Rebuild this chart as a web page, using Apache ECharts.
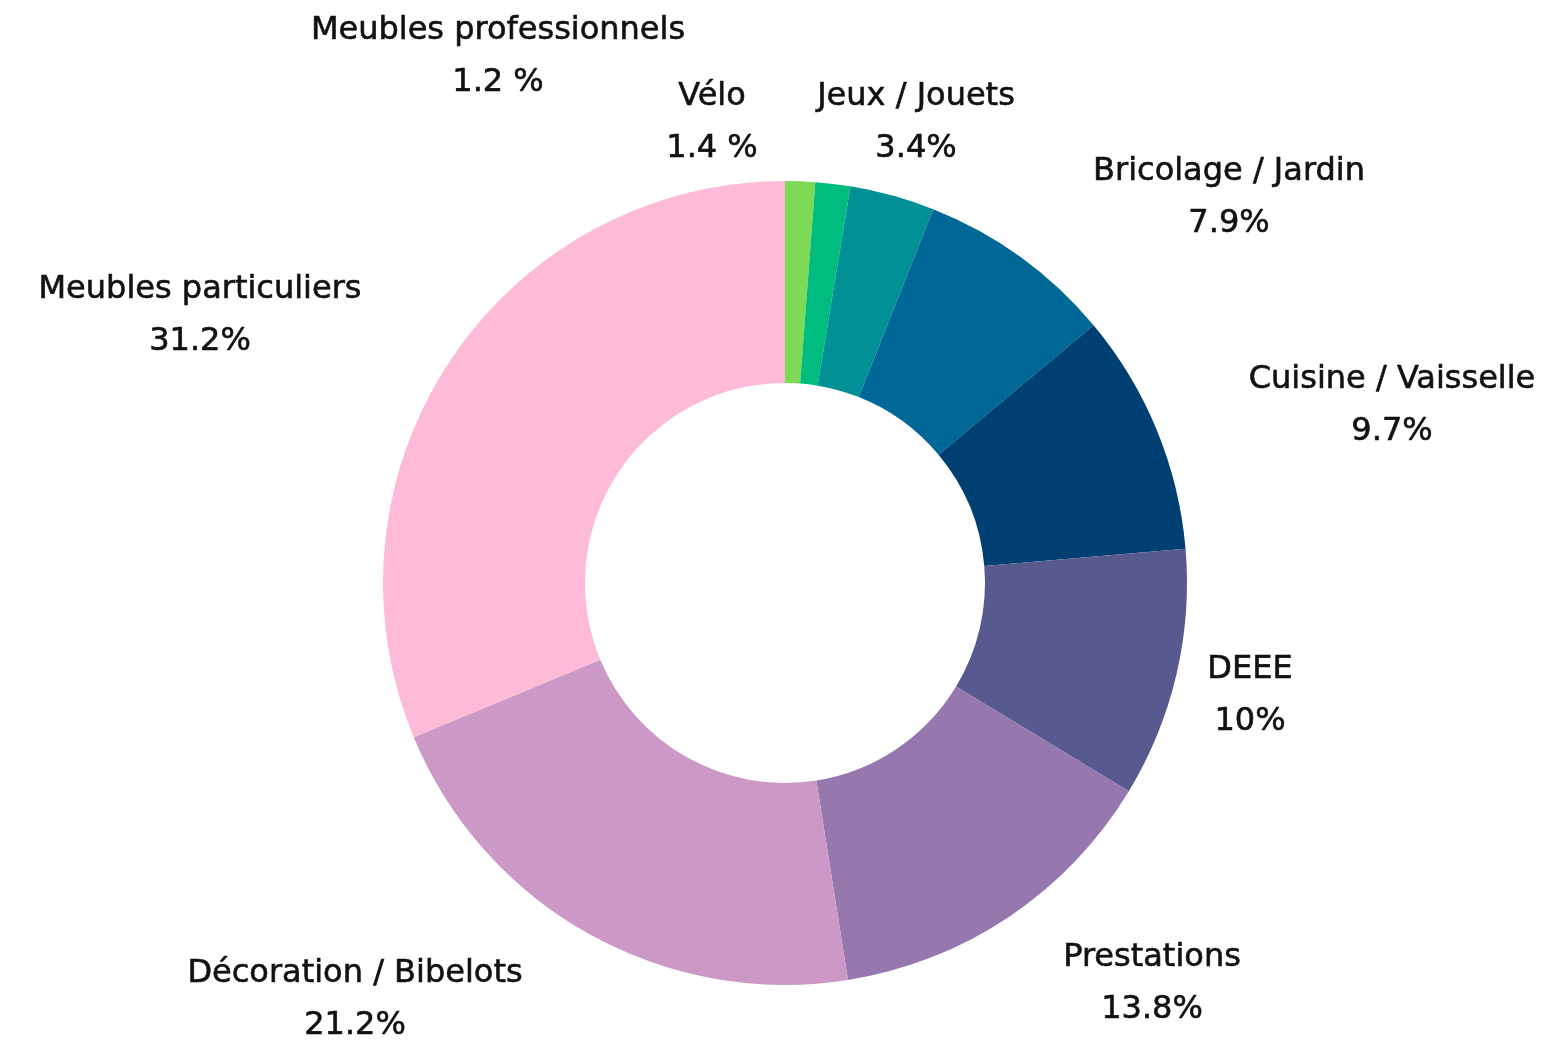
<!DOCTYPE html>
<html>
<head>
<meta charset="utf-8">
<script src="https://cdn.jsdelivr.net/npm/echarts@6/dist/echarts.min.js"></script>
<style>
  html, body { margin: 0; padding: 0; background: #fff; }
  #main { width: 1559px; height: 1040px; }
</style>
</head>
<body>
<div id="main"></div>
<script>
// data
var categories = ['Meubles professionnels', 'Vélo', 'Jeux / Jouets', 'Bricolage / Jardin',
    'Cuisine / Vaisselle', 'DEEE', 'Prestations', 'Décoration / Bibelots', 'Meubles particuliers'];
var values = [1.2, 1.4, 3.4, 7.9, 9.7, 10, 13.8, 21.2, 31.2];
var valueLabels = ['1.2 %', '1.4 %', '3.4%', '7.9%', '9.7%', '10%', '13.8%', '21.2%', '31.2%'];

var colors = ['#7ed957', '#00bc7e', '#009096', '#006896', '#003f72', '#585a8f', '#9678ae', '#cc98c5', '#fdbbd8'];
// label block centres (px)
var labelPos = [[498, 57], [712, 123], [916, 123], [1229, 198], [1392, 406], [1250, 696], [1152, 984], [355, 1000], [200, 316]];

var myChart = echarts.init(document.getElementById('main'));

var option = {
    color: colors,
    animation: false,
    series: [
        {
            type: 'pie',
            center: [785, 583],
            radius: [200, 402],
            startAngle: 90,
            clockwise: true,
            data: categories.map(function (c, i) {
                return { name: c, value: values[i] };
            }),
            label: {
                show: true,
                position: 'outside',
                color: '#111',
                fontFamily: 'DejaVu Sans',
                fontSize: 32,
                lineHeight: 52,
                align: 'center',
                textBorderColor: '#111',
                textBorderWidth: 0.6,
                formatter: function (p) {
                    return p.name + '\n' + valueLabels[p.dataIndex];
                }
            },
            labelLine: { show: false },
            labelLayout: function (params) {
                var p = labelPos[params.dataIndex];
                return { x: p[0], y: p[1], align: 'center', verticalAlign: 'middle' };
            },
            emphasis: { disabled: true }
        }
    ]
};

myChart.setOption(option, true);
</script>
</body>
</html>
